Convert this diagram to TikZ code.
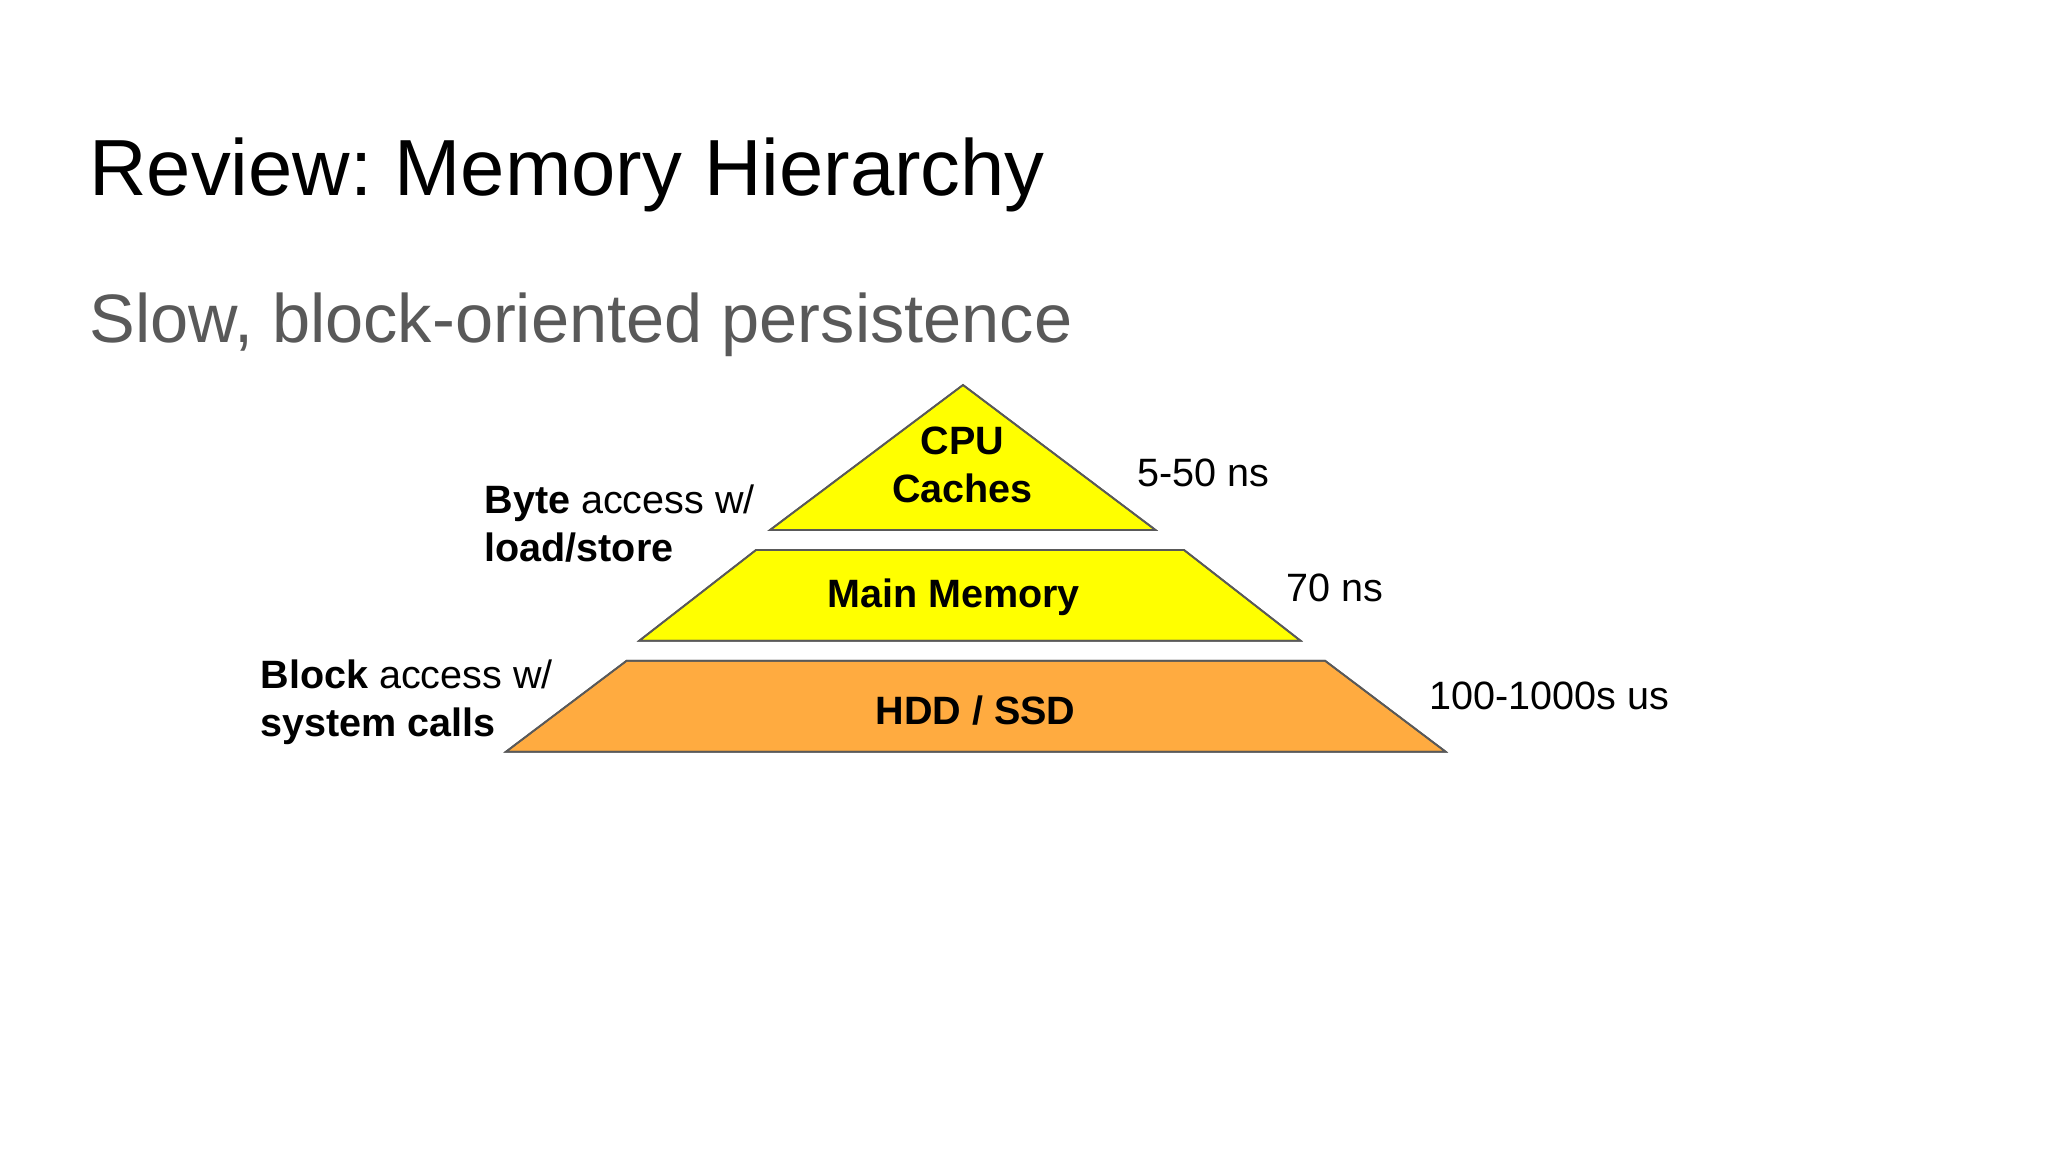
\documentclass[tikz,border=0pt]{standalone}
\usepackage{fontspec}
\setmainfont{Liberation Sans}
\usepackage{tikz}
\usetikzlibrary{positioning}
\frenchspacing

\definecolor{layeryellow}{HTML}{FFFF00}
\definecolor{layerorange}{HTML}{FFAB40}
\definecolor{edgegray}{HTML}{595959}
\definecolor{subgray}{HTML}{595959}

\begin{document}
\begin{tikzpicture}[
    layer/.style={draw=edgegray, line width=0.5pt, line join=miter},
    lab/.style={font=\fontsize{11.25pt}{13.5pt}\selectfont, inner sep=0pt},
    boldlab/.style={lab, font=\fontsize{11.25pt}{13.5pt}\selectfont\bfseries},
]
\useasboundingbox (0,0) rectangle (20.48,11.52);
\fill[white] (0,0) rectangle (20.48,11.52);

% Headings
\node[anchor=base west, inner sep=0pt, font=\fontsize{22.65pt}{27pt}\selectfont] (title) at (0.887, 9.56) {Review: Memory Hierarchy};
\node[anchor=base west, inner sep=0pt, text=subgray, font=\fontsize{19.5pt}{23pt}\selectfont] (subtitle) at (0.888, 8.09) {Slow, block-oriented persistence};

% Pyramid layers
\fill[layer, fill=layeryellow] (9.63, 7.67) -- (11.555, 6.22) -- (7.70, 6.22) -- cycle;
\fill[layer, fill=layeryellow] (7.56, 6.02) -- (11.84, 6.02) -- (13.005, 5.113) -- (6.393, 5.113) -- cycle;
\fill[layer, fill=layerorange] (6.267, 4.913) -- (13.25, 4.913) -- (14.456, 4.003) -- (5.06, 4.003) -- cycle;
\draw[layer] (9.63, 7.67) -- (11.555, 6.22) -- (7.70, 6.22) -- cycle;
\draw[layer] (7.56, 6.02) -- (11.84, 6.02) -- (13.005, 5.113) -- (6.393, 5.113) -- cycle;
\draw[layer] (6.267, 4.913) -- (13.25, 4.913) -- (14.456, 4.003) -- (5.06, 4.003) -- cycle;

% Layer names
\node[boldlab, anchor=base] (cpu) at (9.626, 6.97) {CPU};
\node[boldlab, anchor=base] (caches) at (9.626, 6.497) {Caches};
\node[boldlab, anchor=base] (mainmem) at (9.535, 5.447) {Main Memory};
\node[boldlab, anchor=base] (disk) at (9.756, 4.27) {HDD / SSD};

% Access labels (left)
\node[lab, anchor=base west] (byteacc) at (4.838, 6.38) {\textbf{Byte} access w/};
\node[lab, anchor=base west] (loadstore) at (4.838, 5.903) {\textbf{load/store}};
\node[lab, anchor=base west] (blockacc) at (2.598, 4.63) {\textbf{Block} access w/};
\node[lab, anchor=base west] (syscalls) at (2.598, 4.153) {\textbf{system calls}};

% Latencies (right)
\node[lab, anchor=base west] (latcpu) at (11.37, 6.653) {5-50 ns};
\node[lab, anchor=base west] (latmem) at (12.86, 5.503) {70 ns};
\node[lab, anchor=base west] (latdisk) at (14.29, 4.42) {100-1000s us};
\end{tikzpicture}
\end{document}
